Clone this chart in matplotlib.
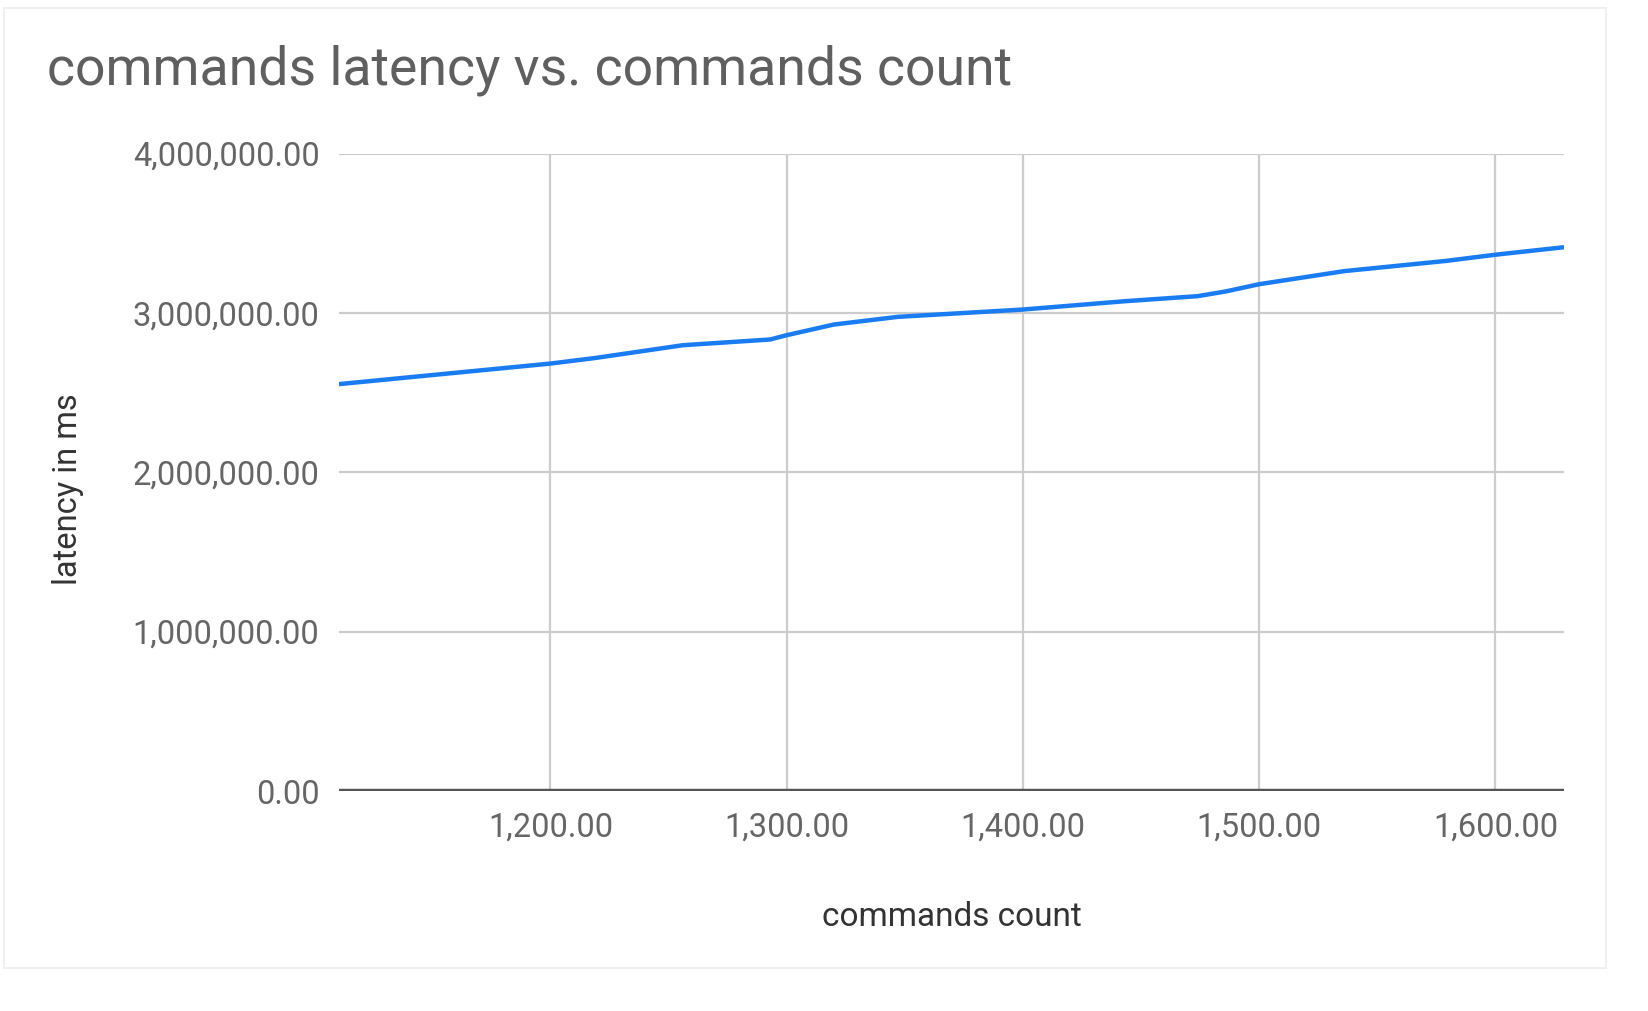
import matplotlib
matplotlib.use("Agg")
import matplotlib.pyplot as plt
from matplotlib.patches import Rectangle
from matplotlib.ticker import FuncFormatter

# data
commands_count = [1110.5, 1200, 1219, 1256, 1293, 1300, 1320, 1347, 1400,
                  1443, 1474, 1486, 1500, 1536, 1579, 1600, 1629]
latency_ms = [2553000, 2682000, 2717000, 2797000, 2833000, 2860000, 2927000,
              2975000, 3021000, 3073000, 3105000, 3135000, 3180000, 3262000,
              3326000, 3365000, 3412000]

x_ticks = [1200, 1300, 1400, 1500, 1600]
y_ticks = [0, 1000000, 2000000, 3000000, 4000000]

plt.rcParams["font.family"] = ["Roboto", "DejaVu Sans"]

fig = plt.figure(figsize=(16.49, 10.11), dpi=100)
fig.patch.set_facecolor("white")

# card outline
fig.add_artist(Rectangle((4 / 1649, 1 - 968 / 1011), 1602 / 1649, 960 / 1011,
                         transform=fig.transFigure, facecolor="white",
                         edgecolor="#f0f0f0", linewidth=1.5, zorder=0))

ax = fig.add_axes([339 / 1649, 1 - 791 / 1011, 1225 / 1649, 637.5 / 1011])
ax.set_facecolor("none")

ax.plot(commands_count, latency_ms, color="#1a7cf2", linewidth=3.2,
        solid_capstyle="butt", solid_joinstyle="round", zorder=3)

ax.set_xlim(1110.5, 1629)
ax.set_ylim(0, 4000000)
ax.set_xticks(x_ticks)
ax.set_yticks(y_ticks)

fmt = FuncFormatter(lambda v, p: f"{v:,.2f}")
ax.xaxis.set_major_formatter(fmt)
ax.yaxis.set_major_formatter(fmt)

ax.grid(True, color="#cccccc", linewidth=1.6, zorder=1)
ax.axhline(0, color="#555555", linewidth=3.2, zorder=2)
for s in ax.spines.values():
    s.set_visible(False)
ax.tick_params(length=0, labelsize=23.5, labelcolor="#666666")
ax.tick_params(axis="x", pad=15)
ax.tick_params(axis="y", pad=14)

fig.text(47 / 1649, 1 - 70 / 1011, "commands latency vs. commands count",
         fontsize=38.6, color="#5f5f5f", va="center", ha="left")
fig.text(951.5 / 1649, 1 - 917 / 1011, "commands count", fontsize=24,
         color="#333333", ha="center", va="center")
fig.text(68 / 1649, 1 - 489 / 1011, "latency in ms", fontsize=23.5,
         color="#333333", ha="center", va="center", rotation=90)

fig.savefig("out.png", dpi=100)
